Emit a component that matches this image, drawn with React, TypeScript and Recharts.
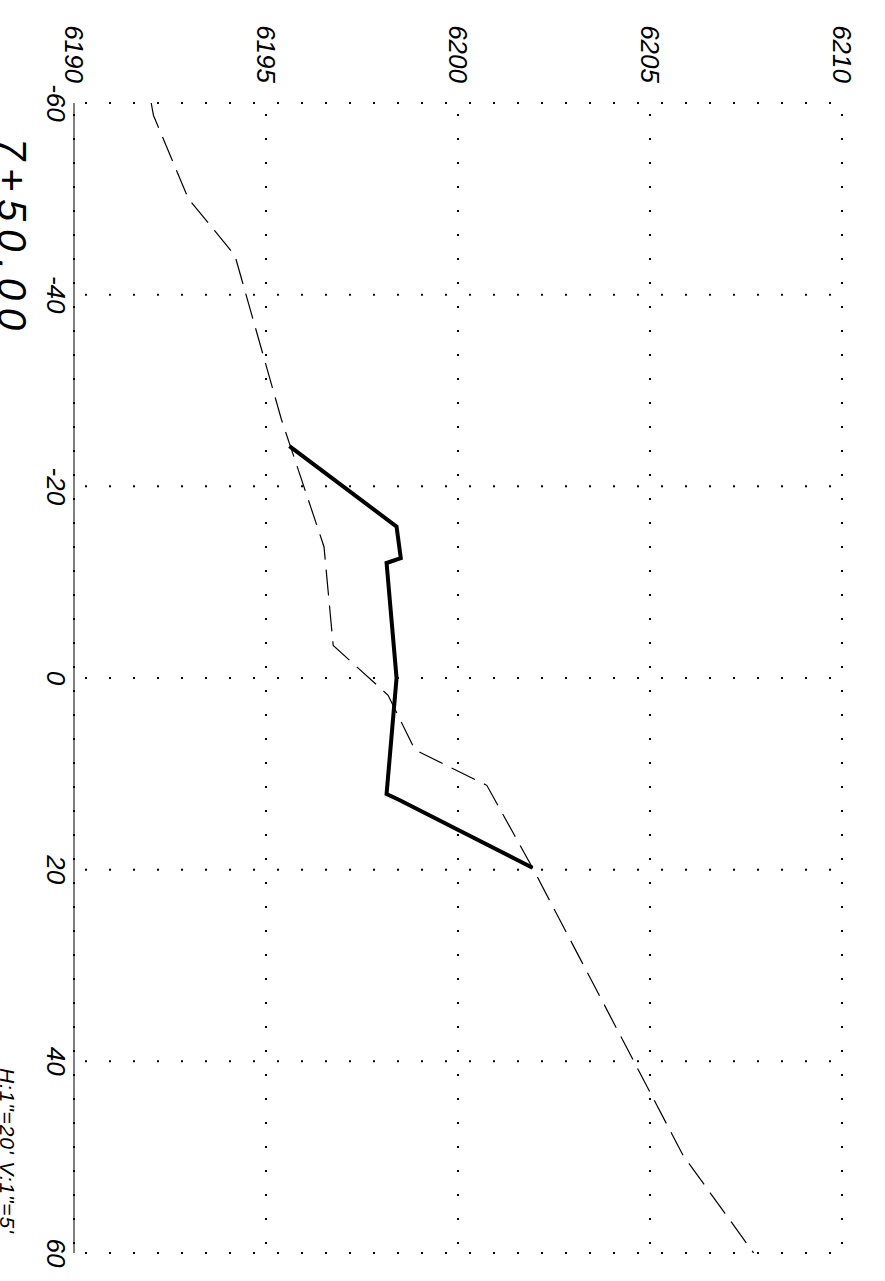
import React from 'react';
import { LineChart, Line, XAxis, YAxis, CartesianGrid } from 'recharts';

// Axis ticks
const offsetTicks = [-60, -40, -20, 0, 20, 40, 60];
const elevationTicks = [6190, 6195, 6200, 6205, 6210];

// Existing ground (dashed)
const groundOffsets = [-60, -58.7, -50.0, -44.1, -27.0, -13.7, -3.4, 1.8, 7.5, 11.2, 19.8, 49.8, 60];
const groundElevations = [6192.01, 6192.07, 6192.98, 6194.19, 6195.4, 6196.51, 6196.75, 6198.18, 6198.88, 6200.75, 6201.94, 6205.86, 6207.7];

// Proposed section (thick solid)
const designOffsets = [-24.2, -15.8, -12.5, -12.0, 0, 12.1, 12.7, 19.8];
const designElevations = [6195.61, 6198.4, 6198.51, 6198.14, 6198.4, 6198.14, 6198.46, 6201.94];

const stationLabel = '7+50.00';
const scaleLabel = 'H:1"=20\' V:1"=5\'';

const groundData = groundOffsets.map((o, i) => ({ offset: o, elevation: groundElevations[i] }));
const designData = designOffsets.map((o, i) => ({ offset: o, elevation: designElevations[i] }));

const W = 1281;
const H = 885;
const FONT = '"Liberation Sans", Arial, sans-serif';

const dotLine = (p: any) => (
  <line
    key={`g-${p.x1}-${p.y1}-${p.x2}-${p.y2}`}
    x1={p.x1}
    y1={p.y1}
    x2={p.x2}
    y2={p.y2}
    stroke="#000"
    strokeWidth={2}
    strokeDasharray="2 22"
    strokeDashoffset={13}
    fill="none"
  />
);

const tickStyle = { fill: '#000', fontSize: 26, fontStyle: 'italic', fontFamily: FONT };

export default function App() {
  return (
    <div style={{ position: 'absolute', left: 0, top: 0, width: 885, height: 1281, overflow: 'hidden', background: '#fff' }}>
      <div
        style={{
          position: 'absolute',
          left: 0,
          top: 0,
          width: W,
          height: H,
          transformOrigin: '0 0',
          transform: `translate(${H}px, 0px) rotate(90deg)`,
        }}
      >
        <LineChart width={W} height={H} margin={{ top: 43, right: 28, bottom: 34, left: 0 }}>
          <CartesianGrid horizontal={dotLine} vertical={dotLine} />
          <XAxis
            type="number"
            dataKey="offset"
            domain={[-60, 60]}
            ticks={offsetTicks}
            interval={0}
            allowDataOverflow
            height={40}
            tickSize={0}
            tickMargin={9}
            axisLine={{ stroke: '#000', strokeWidth: 1 }}
            tickLine={false}
            tick={tickStyle}
          />
          <YAxis
            type="number"
            domain={[6190, 6210]}
            ticks={elevationTicks}
            interval={0}
            allowDataOverflow
            width={103}
            tickSize={0}
            tickMargin={20}
            axisLine={false}
            tickLine={false}
            tick={tickStyle}
          />
          <Line
            data={groundData}
            dataKey="elevation"
            type="linear"
            stroke="#000"
            strokeWidth={1.2}
            strokeDasharray="26 10"
            dot={false}
            activeDot={false}
            isAnimationActive={false}
          />
          <Line
            data={designData}
            dataKey="elevation"
            type="linear"
            stroke="#000"
            strokeWidth={4}
            dot={false}
            activeDot={false}
            isAnimationActive={false}
          />
        </LineChart>
        <svg style={{ position: 'absolute', left: 0, top: 0, pointerEvents: 'none' }} width={W} height={H}>
          <text
            x={138}
            y={887}
            fontFamily={FONT}
            fontStyle="italic"
            fontSize={40}
            fill="#000"
            textLength={192}
            lengthAdjust="spacing"
          >
            {stationLabel}
          </text>
          <text
            x={1068}
            y={885}
            fontFamily={FONT}
            fontStyle="italic"
            fontSize={21}
            fill="#000"
            textLength={165}
            lengthAdjust="spacing"
          >
            {scaleLabel}
          </text>
        </svg>
      </div>
    </div>
  );
}
